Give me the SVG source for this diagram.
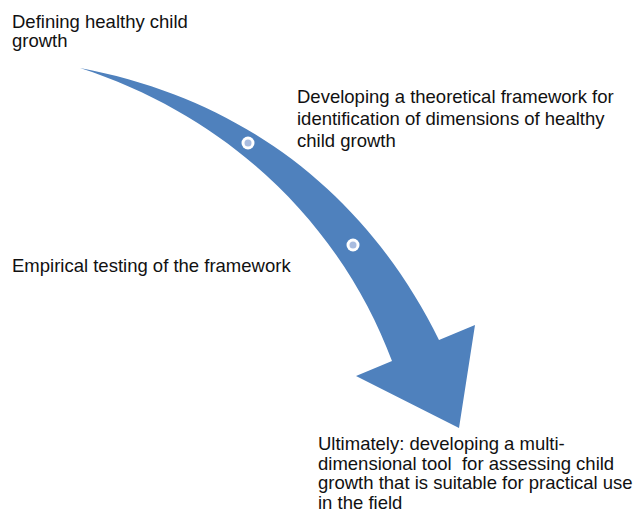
<svg xmlns="http://www.w3.org/2000/svg" width="634" height="513" viewBox="0 0 634 513">
<style>
text{font-family:"Liberation Sans",Arial,sans-serif;font-size:18.5px;fill:#111;white-space:pre}
.arrow{fill:#4f81bd}
.dot{fill:#a9bcdf}
</style>
<rect width="634" height="513" fill="#fff"/>
<g id="connectors">
<path class="arrow" d="M80,68 C250,100 370,200 439,340 L475,325 L459,428 L356,376 L392,361 C345,235 240,120 80,68 Z"/>
</g>
<g id="marker1"><circle cx="248" cy="143" r="6.5" fill="#fff"/><circle class="dot" cx="248" cy="143" r="3.5"/></g>
<g id="marker2"><circle cx="353" cy="245" r="6.5" fill="#fff"/><circle class="dot" cx="353" cy="245" r="3.5"/></g>
<g id="node1"><text x="12" y="28">Defining healthy child</text><text x="12" y="47">growth</text></g>
<g id="node2"><text x="297" y="103">Developing a theoretical framework for</text><text x="297" y="125">identification of dimensions of healthy</text><text x="297" y="147">child growth</text></g>
<g id="node3"><text x="12" y="272">Empirical testing of the framework</text></g>
<g id="node4"><text x="318" y="450">Ultimately: developing a multi-</text><text x="318" y="469.7" xml:space="preserve">dimensional tool  for assessing child</text><text x="318" y="489.4">growth that is suitable for practical use</text><text x="318" y="509">in the field</text></g>
</svg>
